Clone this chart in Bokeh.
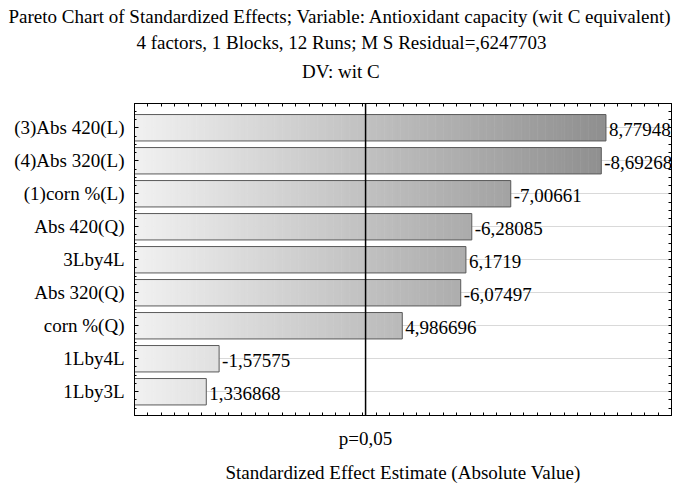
from bokeh.plotting import figure
from bokeh.models import Range1d, LinearAxis, FixedTicker, Span, Title, LabelSet, ColumnDataSource
from bokeh.embed import file_html
from bokeh.resources import INLINE

# ---- data ----
factors = ["(3)Abs 420(L)", "(4)Abs 320(L)", "(1)corn %(L)", "Abs 420(Q)", "3Lby4L",
           "Abs 320(Q)", "corn %(Q)", "1Lby4L", "1Lby3L"]
effects = [8.779487, -8.69268, -7.00661, -6.28085, 6.1719, -6.07497, 4.986696, -1.57575, 1.336868]
p_crit = 4.303
p_label = "p=0,05"
title_lines = ["Pareto Chart of Standardized Effects; Variable: Antioxidant capacity (wit C equivalent)",
               "4 factors, 1 Blocks, 12 Runs; M S Residual=,6247703",
               "DV: wit C"]
x_title = "Standardized Effect Estimate (Absolute Value)"

FONT_NAME = "'Liberation Serif', 'Times New Roman', serif"
FS_PX = 19
FS = f"{FS_PX}px"

ys = list(range(len(factors)))
absvals = [abs(v) for v in effects]
labels = [str(v).replace(".", ",") for v in effects]

W, H = 682, 485
FL, FR, FT = 134, 671, 103   # frame left / right / top in pixels

# approximate Times metrics (per 1000 em) to centre titles on the canvas
_w = {" ": 250, "(": 333, ")": 333, ",": 250, "-": 333, ".": 250, ":": 278, ";": 278,
      "=": 564, "%": 833}
for ch in "0123456789":
    _w[ch] = 500
_w.update(dict(A=722, B=667, C=667, D=722, E=611, F=556, G=722, H=722, I=333, J=389, K=722,
               L=611, M=889, N=722, O=722, P=556, Q=722, R=667, S=556, T=611, U=722, V=722,
               W=944, X=722, Y=722, Z=611))
_w.update(dict(a=444, b=500, c=444, d=500, e=444, f=333, g=500, h=500, i=278, j=278, k=500,
               l=278, m=778, n=500, o=500, p=500, q=500, r=333, s=389, t=278, u=500, v=500,
               w=722, x=500, y=500, z=444))

def text_width(s):
    return sum(_w.get(c, 500) for c in s) * FS_PX / 1000.0

p = figure(width=W, height=H, output_backend="svg", toolbar_location=None,
           x_range=Range1d(0, 10), y_range=Range1d(8.72, -0.735),
           min_border_left=FL, min_border_right=W - FR, min_border_top=FT,
           min_border_bottom=67,
           x_axis_location="below", y_axis_location="left")
p.outline_line_color = "black"
p.background_fill_color = "white"
p.xgrid.visible = False
p.ygrid.grid_line_color = "#d9d9d9"
p.ygrid.grid_line_width = 1

# gradient segments (colour depends on x position)
def shade(x):
    g = int(round(241 - 11.2 * x))
    return "#%02x%02x%02x" % (g, g, g)

seg_l, seg_r, seg_b, seg_t, seg_c = [], [], [], [], []
step = 0.05
for y, a in zip(ys, absvals):
    n = int(a / step) + 1
    for k in range(n):
        l = k * step
        if l >= a:
            break
        r = min(l + step + 0.01, a)
        seg_l.append(l); seg_r.append(r)
        seg_b.append(y - 0.4); seg_t.append(y + 0.4)
        seg_c.append(shade(l + step / 2))
p.quad(left=seg_l, right=seg_r, bottom=seg_b, top=seg_t, fill_color=seg_c, line_color=None)

src = ColumnDataSource(dict(y=ys, a=absvals, lab=labels))
p.hbar(y="y", left=0, right="a", height=0.8, source=src, fill_color=None,
       line_color="#5a5a5a", line_width=1)
p.add_layout(LabelSet(x="a", y="y", text="lab", source=src, x_offset=3, y_offset=-2,
                      text_baseline="middle", text_align="left", text_font=FONT_NAME,
                      text_font_size=FS, text_color="black"))

p.add_layout(Span(location=p_crit, dimension="height", line_color="black", line_width=1.5))

# axes
quarters_x = [i * 0.25 for i in range(41)]
quarters_y = [i * 0.25 - 0.75 for i in range(40)]

xa = p.xaxis[0]
xa.ticker = FixedTicker(ticks=[p_crit], minor_ticks=quarters_x)
xa.major_label_overrides = {p_crit: p_label}
xa.major_tick_in = 0; xa.major_tick_out = 0
xa.minor_tick_in = 3; xa.minor_tick_out = 0
xa.major_label_standoff = 12
xa.major_label_text_font = FONT_NAME
xa.major_label_text_font_size = FS
xa.major_label_text_color = "black"
xa.axis_label = x_title
xa.axis_label_standoff = 10
xa.axis_label_text_font = FONT_NAME
xa.axis_label_text_font_size = FS
xa.axis_label_text_font_style = "normal"
xa.axis_label_text_color = "black"
xa.axis_line_color = "black"

ya = p.yaxis[0]
ya.ticker = FixedTicker(ticks=ys, minor_ticks=quarters_y)
ya.major_label_overrides = {i: f for i, f in enumerate(factors)}
ya.major_tick_in = 4; ya.major_tick_out = 0
ya.minor_tick_in = 2; ya.minor_tick_out = 0
ya.major_label_standoff = 10
ya.major_label_text_font = FONT_NAME
ya.major_label_text_font_size = FS
ya.major_label_text_color = "black"
ya.axis_line_color = "black"

top_ax = LinearAxis(ticker=FixedTicker(ticks=[], minor_ticks=quarters_x),
                    major_label_standoff=0, major_tick_out=0, major_tick_in=0,
                    minor_tick_in=3, minor_tick_out=0, axis_line_color="black")
p.add_layout(top_ax, "above")
right_ax = LinearAxis(ticker=FixedTicker(ticks=[], minor_ticks=quarters_y),
                      major_label_standoff=0, major_tick_out=0, major_tick_in=0,
                      minor_tick_in=3, minor_tick_out=0, axis_line_color="black")
p.add_layout(right_ax, "right")

# blank spacer between the frame and the title block
p.add_layout(Title(text=" ", text_font_size="8px", standoff=7), "above")

# titles: added nearest-first; left aligned with offset so that each is centred on the canvas
for txt, sd in [(title_lines[2], 8), (title_lines[1], 4), (title_lines[0], 2)]:
    off = W / 2 - text_width(txt) / 2 - FL
    p.add_layout(Title(text=txt, align="left", offset=off, standoff=sd,
                       text_font=FONT_NAME, text_font_size=FS,
                       text_font_style="normal", text_color="black"), "above")

open("out.html", "w").write(file_html(p, INLINE))
